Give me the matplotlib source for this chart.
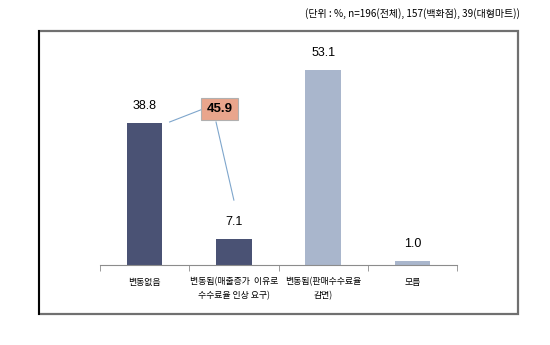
import numpy as np
import matplotlib.pyplot as plt
from matplotlib.patches import Rectangle
from matplotlib.lines import Line2D

plt.rcParams['font.family'] = ['Noto Sans CJK KR', 'DejaVu Sans']

categories = ['변동없음', '변동됨(매출증가  이유로\n수수료율 인상 요구)', '변동됨(판매수수료율\n감면)', '모름']
values = [38.8, 7.1, 53.1, 1.0]
colors = ['#4a5274', '#4a5274', '#a9b6cc', '#a9b6cc']
subtitle = '(단위 : %, n=196(전체), 157(백화점), 39(대형마트))'

num_font = ['Liberation Sans Narrow', 'Liberation Sans', 'DejaVu Sans']

fig = plt.figure(figsize=(5.5, 3.45), dpi=100)

# outer frame
fig.patches.append(Rectangle((39 / 550, 1 - 314 / 345), 479 / 550, 283 / 345,
                             transform=fig.transFigure, fill=False,
                             edgecolor='#707070', lw=1.6))
fig.lines.append(Line2D([39 / 550, 39 / 550], [1 - 314 / 345, 1 - 31 / 345],
                        transform=fig.transFigure, color='black', lw=1.4))

ax = fig.add_axes([100 / 550, 1 - 265 / 345, 357 / 550, 220 / 345])
x = np.arange(len(values))
ax.bar(x, values, width=0.4, color=colors)
ax.set_xlim(-0.5, 3.5)
ax.set_ylim(0, 60)

for xi, v in zip(x, values):
    ax.annotate(f'{v:.1f}', (xi, v), xytext=(0, 8), textcoords='offset points',
                ha='center', va='bottom', fontsize=9, family=num_font)

# callout: bar 1 + bar 2
total = values[0] + values[1]
ax.plot([0.28, 0.66], [39.0, 42.6], color='#7fa6cc', lw=0.8)
ax.plot([0.80, 1.0], [39.0, 17.7], color='#7fa6cc', lw=0.8)
ax.text(0.84, 42.6, f'{total:.1f}', ha='center', va='center', fontsize=9.5,
        fontweight='bold', family=num_font,
        bbox=dict(boxstyle='square,pad=0.4', facecolor='#e9a58c',
                  edgecolor='#b0b0b0', lw=0.8))

for s in ['top', 'right', 'left']:
    ax.spines[s].set_visible(False)
ax.spines['bottom'].set_color('#8c8c8c')
ax.set_yticks([])
ax.set_xticks(x)
ax.set_xticklabels(categories, fontsize=6.4, linespacing=1.6, va='top')
ax.tick_params(axis='x', which='major', length=0, pad=9)
ax.set_xticks(np.arange(-0.5, 4, 1), minor=True)
ax.tick_params(axis='x', which='minor', length=4, color='#8c8c8c')

fig.text(520 / 550, 1 - 14 / 345, subtitle, ha='right', va='center', fontsize=7.2)

fig.savefig('out.png', dpi=100)
